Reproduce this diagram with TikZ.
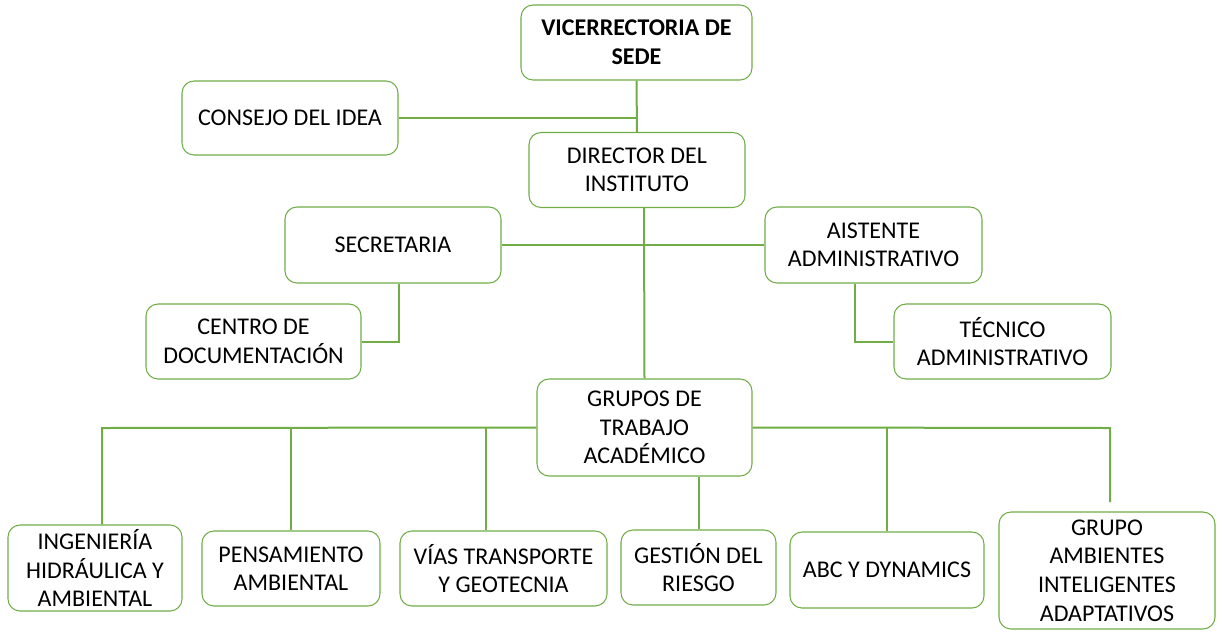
\documentclass[tikz,border=0pt]{standalone}
\usepackage{fontspec}
\setmainfont{Carlito}
\definecolor{boxgreen}{HTML}{70AD47}
\begin{document}
\begin{tikzpicture}[x=0.75pt,y=-0.75pt,
  orgbox/.style={draw=boxgreen,line width=0.8pt,rounded corners=9pt,fill=white,
    align=center,inner sep=0pt,font=\fontsize{18}{21.4}\selectfont,text=black},
  link/.style={draw=boxgreen,line width=1.5pt}]
\useasboundingbox (0,0) rectangle (1222,637);
% boxes
\node[orgbox,minimum width=231*0.75pt,minimum height=75*0.75pt,font=\fontsize{18}{21.8}\selectfont\bfseries] (vice) at (636.5,42.5) {VICERRECTORIA DE\\SEDE};
\node[orgbox,minimum width=216*0.75pt,minimum height=74*0.75pt] (consejo) at (290,118) {CONSEJO DEL IDEA};
\node[orgbox,minimum width=216*0.75pt,minimum height=75*0.75pt] (director) at (637,170) {DIRECTOR DEL\\INSTITUTO};
\node[orgbox,minimum width=216*0.75pt,minimum height=76*0.75pt] (secre) at (393,245) {SECRETARIA};
\node[orgbox,minimum width=217*0.75pt,minimum height=76*0.75pt] (asist) at (873.5,245) {AISTENTE\\ADMINISTRATIVO};
\node[orgbox,minimum width=215*0.75pt,minimum height=75*0.75pt] (centro) at (253.5,341.5) {CENTRO DE\\DOCUMENTACIÓN};
\node[orgbox,minimum width=217*0.75pt,minimum height=75*0.75pt] (tecnico) at (1002.5,341.5) {TÉCNICO\\ADMINISTRATIVO};
\node[orgbox,minimum width=215*0.75pt,minimum height=97*0.75pt] (grupos) at (644.5,427.5) {GRUPOS DE\\TRABAJO\\ACADÉMICO};
\node[orgbox,minimum width=174*0.75pt,minimum height=86*0.75pt] (ing) at (95,568) {INGENIERÍA\\HIDRÁULICA Y\\AMBIENTAL};
\node[orgbox,minimum width=178*0.75pt,minimum height=75*0.75pt] (pens) at (291,568.5) {PENSAMIENTO\\AMBIENTAL};
\node[orgbox,minimum width=207*0.75pt,minimum height=75*0.75pt] (vias) at (503.5,568.5) {VÍAS TRANSPORTE\\Y GEOTECNIA};
\node[orgbox,minimum width=155*0.75pt,minimum height=75*0.75pt] (gest) at (698.5,567.5) {GESTIÓN DEL\\RIESGO};
\node[orgbox,minimum width=194*0.75pt,minimum height=76*0.75pt] (abc) at (887,570) {ABC Y DYNAMICS};
\node[orgbox,minimum width=216*0.75pt,minimum height=117*0.75pt] (amb) at (1107,570.5) {GRUPO\\AMBIENTES\\INTELIGENTES\\ADAPTATIVOS};
% connectors
\draw[link] (vice.south) -- (director.north);
\draw[link] (consejo.east) -- (consejo.east -| vice.south);
\draw[link] ([xshift=7*0.75pt]director.south) -- ([xshift=0pt]grupos.north);
\draw[link] (secre.east) -- (asist.west);
\draw[link] ([xshift=6*0.75pt]secre.south) |- (centro.east);
\draw[link] ([xshift=-18.5*0.75pt]asist.south) |- (tecnico.west);
% academic groups
\coordinate (hl) at (102,428);
\coordinate (hr) at (1110,428);
\coordinate (ambtop) at (1110,502);
\draw[link] (grupos.west) -- (hl) -- ([xshift=7*0.75pt]ing.north);
\draw[link] (grupos.east) -- (hr) -- (ambtop);
\draw[link] (pens.north) -- (pens.north |- hl);
\draw[link] ([xshift=-17.5*0.75pt]vias.north) -- ([xshift=-17.5*0.75pt]vias.north |- hl);
\draw[link] (gest.north) -- (gest.north |- grupos.south);
\draw[link] (abc.north) -- (abc.north |- hl);
\end{tikzpicture}
\end{document}
